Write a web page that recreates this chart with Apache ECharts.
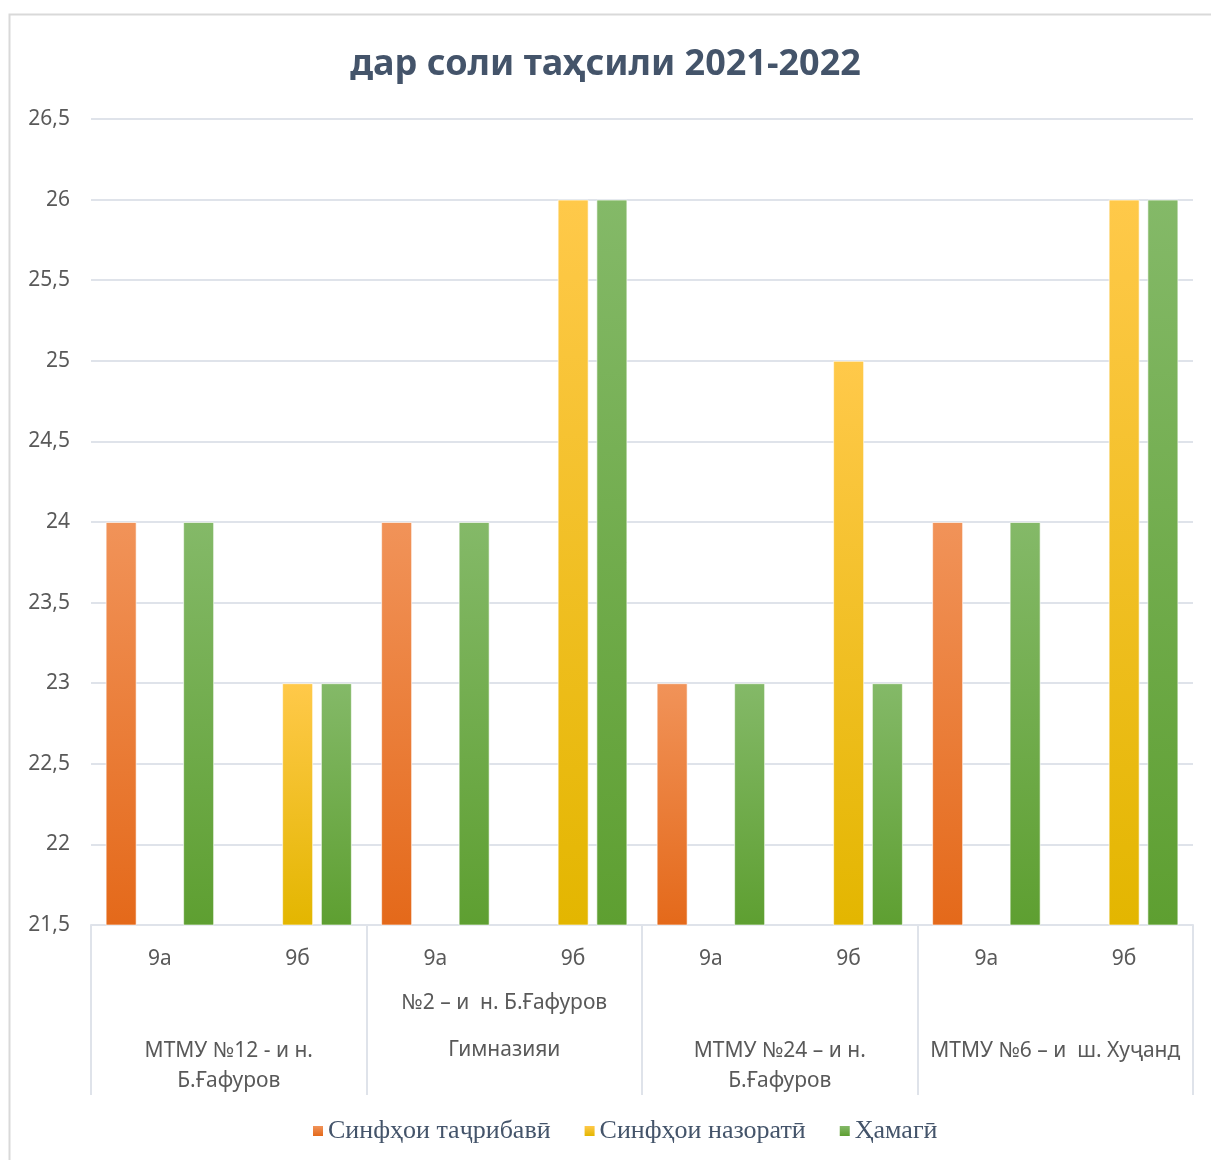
<!DOCTYPE html>
<html>
<head>
<meta charset="utf-8">
<script src="https://cdn.jsdelivr.net/npm/echarts@6/dist/echarts.min.js"></script>
<style>
  html, body { margin: 0; padding: 0; background: #fff; }
  #main { width: 1211px; height: 1160px; }
</style>
</head>
<body>
<div id="main"></div>
<script>
// data
const classes = ['9а', '9б', '9а', '9б', '9а', '9б', '9а', '9б'];
const schools = ['МТМУ №12 - и н.\nБ.Ғафуров', '№2 – и  н. Б.Ғафуров\nГимназияи', 'МТМУ №24 – и н.\nБ.Ғафуров', 'МТМУ №6 – и  ш. Хуҷанд'];
const seriesNames = ['Синфҳои таҷрибавӣ', 'Синфҳои назоратӣ', 'Ҳамагӣ'];
const experimental = [24, null, 24, null, 23, null, 24, null];
const control = [null, 23, null, 26, null, 25, null, 26];
const total = [24, 23, 24, 26, 23, 23, 24, 26];

const chart = echarts.init(document.getElementById('main'));

function grad(top, bottom) {
  return new echarts.graphic.LinearGradient(0, 0, 0, 1, [
    { offset: 0, color: top },
    { offset: 1, color: bottom }
  ]);
}

const gridColor = '#dfe3ea';
const labelColor = '#595959';
const font = 'Noto Sans';

function bar(name, data, color) {
  return {
    name: name,
    type: 'bar',
    data: data,
    barWidth: 31,
    barGap: '25%',
    itemStyle: {
      color: color,
      borderColor: 'rgba(255,255,255,0.6)',
      borderWidth: 1
    }
  };
}

const option = {
  animation: false,
  graphic: [{
    type: 'rect',
    z: -10,
    shape: { x: 9.5, y: 14.5, width: 1230, height: 1200 },
    style: { fill: 'none', stroke: '#d9d9d9', lineWidth: 2 }
  }],
  title: {
    text: 'дар соли таҳсили 2021-2022',
    left: 'center',
    top: 42,
    textStyle: { fontFamily: font, fontSize: 36, fontWeight: 'bold', color: '#44546a' }
  },
  legend: {
    bottom: 11,
    left: 308,
    icon: 'rect',
    itemWidth: 10,
    itemHeight: 10,
    itemGap: 34,
    itemStyle: { borderWidth: 0 },
    textStyle: { fontFamily: 'Liberation Serif', fontSize: 26, color: '#44546a' },
    data: seriesNames
  },
  grid: { left: 91, right: 18, top: 119, bottom: 235 },
  xAxis: [{
    type: 'category',
    data: classes,
    axisLine: { lineStyle: { color: gridColor, width: 2 } },
    axisTick: { show: false },
    axisLabel: { color: labelColor, fontFamily: font, fontSize: 21, margin: 24 }
  }, {
    type: 'category',
    position: 'bottom',
    data: schools.map((s, i) => i === 1
      ? { value: s, textStyle: { lineHeight: 47, padding: [0, 0, 0, 0] } }
      : { value: s, textStyle: { lineHeight: 30, padding: [56, 0, 0, 0] } }),
    axisLine: { show: false },
    axisTick: { show: true, length: 170, lineStyle: { color: gridColor, width: 2 } },
    axisLabel: { color: labelColor, fontFamily: font, fontSize: 21, margin: 55, interval: 0 }
  }],
  yAxis: {
    type: 'value',
    min: 21.5,
    max: 26.5,
    interval: 0.5,
    axisLine: { show: false },
    axisTick: { show: false },
    splitLine: { lineStyle: { color: gridColor, width: 2 } },
    axisLabel: {
      color: labelColor, fontFamily: font, fontSize: 21, margin: 21,
      formatter: v => String(v).replace('.', ',')
    }
  },
  series: [
    bar(seriesNames[0], experimental, grad('#f19359', '#e4691a')),
    bar(seriesNames[1], control, grad('#ffc94a', '#e3b600')),
    bar(seriesNames[2], total, grad('#84b968', '#5e9f31'))
  ]
};

chart.setOption(option);
</script>
</body>
</html>
